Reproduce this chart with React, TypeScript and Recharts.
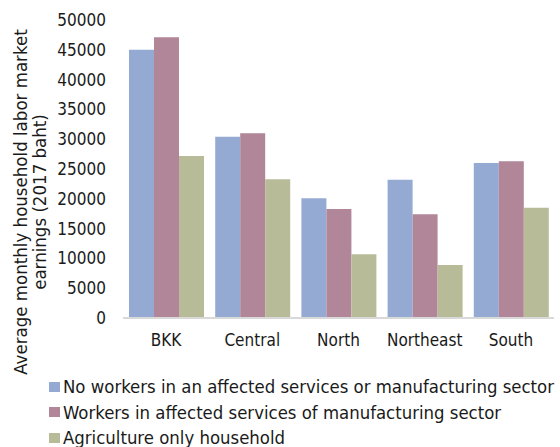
import React from "react";
import { BarChart, Bar, XAxis, YAxis } from "recharts";

const regions = ["BKK", "Central", "North", "Northeast", "South"];
const noAffected = [45000, 30400, 20100, 23200, 26000];
const affected = [47100, 31000, 18300, 17400, 26300];
const agriculture = [27200, 23300, 10700, 8900, 18500];
const yTicks = [0, 5000, 10000, 15000, 20000, 25000, 30000, 35000, 40000, 45000, 50000];

const seriesNames = [
    "No workers in an affected services or manufacturing sector",
    "Workers in affected services of manufacturing sector",
    "Agriculture only household",
];
const seriesColors = ["#95aad3", "#b18699", "#b8bb98"];

const FONT = "'DejaVu Sans Condensed', 'DejaVu Sans', sans-serif";

const data = regions.map((region, i) => ({
    region,
    a: noAffected[i],
    b: affected[i],
    c: agriculture[i],
}));

const YTitle = () => (
    <g fontSize={18.5} fontFamily={FONT} fill="#1a1a1a">
        <text transform="translate(27, 202) rotate(-90)" textAnchor="middle">
            Average monthly household labor market
        </text>
        <text transform="translate(46, 202) rotate(-90)" textAnchor="middle">
            earnings (2017 baht)
        </text>
    </g>
);

export default function App() {
    return (
        <div style={{ position: "absolute", left: 0, top: 0, width: 560, height: 447, background: "#fff", overflow: "hidden" }}>
            <BarChart
                width={560}
                height={447}
                data={data}
                margin={{ top: 20, right: 6, left: 0, bottom: 99 }}
                barCategoryGap={6}
                barGap={0}
            >
                <XAxis
                    dataKey="region"
                    tickLine={false}
                    tickSize={0}
                    tickMargin={16}
                    axisLine={{ stroke: "#d9d9d9", strokeWidth: 2 }}
                    tick={{ fill: "#1a1a1a", fontSize: 17, fontFamily: FONT }}
                    height={30}
                />
                <YAxis
                    width={123}
                    domain={[0, 50000]}
                    ticks={yTicks}
                    interval={0}
                    tickLine={false}
                    tickSize={0}
                    tickMargin={17}
                    axisLine={false}
                    tick={{ fill: "#1a1a1a", fontSize: 17, fontFamily: FONT }}
                    label={{ content: () => <YTitle /> }}
                />
                <Bar dataKey="a" name={seriesNames[0]} fill={seriesColors[0]} isAnimationActive={false} />
                <Bar dataKey="b" name={seriesNames[1]} fill={seriesColors[1]} isAnimationActive={false} />
                <Bar dataKey="c" name={seriesNames[2]} fill={seriesColors[2]} isAnimationActive={false} />
            </BarChart>
            <div style={{ position: "absolute", left: 49, top: 374, fontFamily: FONT, fontSize: 18.4, color: "#1a1a1a" }}>
                {seriesNames.map((name, i) => (
                    <div key={name} style={{ display: "flex", alignItems: "center", height: 25.5, whiteSpace: "nowrap" }}>
                        <span style={{ display: "inline-block", width: 11, height: 10, background: seriesColors[i], marginRight: 3 }} />
                        {name}
                    </div>
                ))}
            </div>
        </div>
    );
}
